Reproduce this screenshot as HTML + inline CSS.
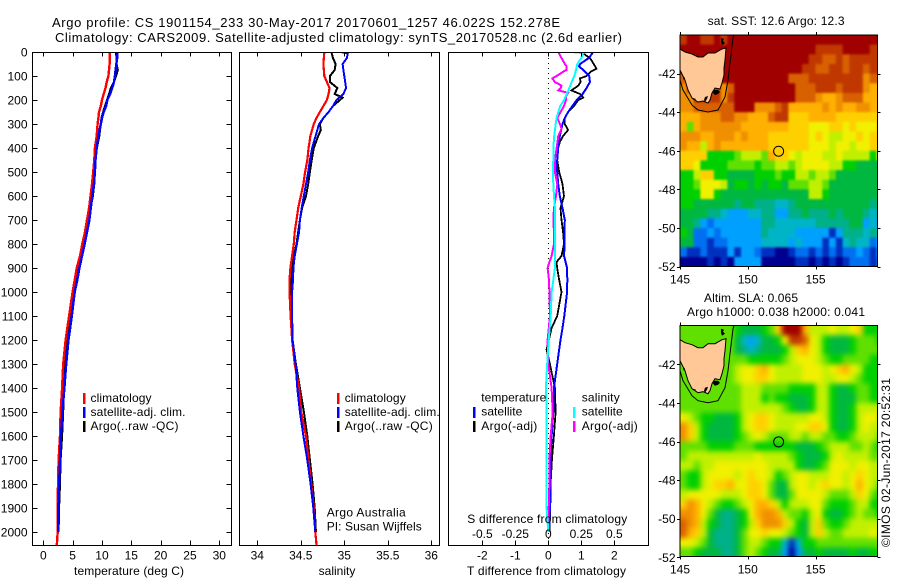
<!DOCTYPE html>
<html lang="en">
<head>
<meta charset="utf-8">
<title>Argo profile chart</title>
<style>
html,body{margin:0;padding:0;background:#fff;}
svg{display:block;}
text{font-family:"Liberation Sans",sans-serif;font-size:12px;fill:#000;}
.frame{fill:none;stroke:#000;stroke-width:1;shape-rendering:crispEdges;}
.tick{stroke:#000;stroke-width:1;shape-rendering:crispEdges;}
.key{stroke-width:2.5;shape-rendering:crispEdges;}
.prof{fill:none;stroke-linejoin:miter;shape-rendering:crispEdges;}
</style>
</head>
<body>
<svg id="chart" xmlns="http://www.w3.org/2000/svg" width="900" height="580" viewBox="0 0 900 580">
  <defs>
    <clipPath id="clip-sst"><rect x="680" y="35" width="197.5" height="231.5"/></clipPath>
    <clipPath id="clip-sla"><rect x="680" y="325.5" width="197.5" height="231"/></clipPath>
    <clipPath id="clip-t"><rect x="32.5" y="52.5" width="199" height="493"/></clipPath>
    <clipPath id="clip-s"><rect x="239.5" y="52.5" width="200" height="493"/></clipPath>
    <clipPath id="clip-d"><rect x="448.5" y="52.5" width="200" height="493"/></clipPath>
    <filter id="soft-sst" filterUnits="userSpaceOnUse" x="640" y="0" width="260" height="300" color-interpolation-filters="sRGB"><feGaussianBlur stdDeviation="1.1"/></filter>
    <filter id="soft-sla" filterUnits="userSpaceOnUse" x="640" y="290" width="260" height="290" color-interpolation-filters="sRGB"><feGaussianBlur stdDeviation="2.6"/></filter>
  </defs>

  <text x="52" y="27" style="font-size:13px" textLength="508">Argo profile: CS 1901154_233 30-May-2017 20170601_1257 46.022S 152.278E</text>
  <text x="55" y="42" style="font-size:13px" textLength="567">Climatology: CARS2009. Satellite-adjusted climatology: synTS_20170528.nc (2.6d earlier)</text>

  <g id="marks-t" clip-path="url(#clip-t)"></g>
  <g id="marks-s" clip-path="url(#clip-s)"></g>
  <line x1="548.5" y1="53" x2="548.5" y2="545" stroke="#000" stroke-width="1" stroke-dasharray="1 4"/>
  <g id="marks-d" clip-path="url(#clip-d)"></g>
  <g clip-path="url(#clip-sst)"><g id="cells-sst" filter="url(#soft-sst)"></g></g>
  <g clip-path="url(#clip-sla)"><g id="cells-sla" filter="url(#soft-sla)"></g></g>

  <g id="coast-sst" clip-path="url(#clip-sst)">
    <path d="M680 49L685 52L692 54L698 57L703 57L708 53L715 53L722 49L726 48L725 60L724 68L724 75L722 83L720 89L715 88L712 93L710 100L708 103L703 101L698 102L692 98L688 90L685 80L680 70Z" fill="#ffc896" stroke="#000" stroke-width="1"/>
    <path d="M680 80L683 90L692 105L698 110L708 112L718 110L725 97L728 80L730 63L733 38L734 35" fill="none" stroke="#000" stroke-width="1"/>
    <path d="M721 38l3 1l-1 2l2 2l-3 2l-1-3ZM714 90l4 0l2 2l-2 2l-3 1l-2-2ZM705 97l3-1l-1 3l-2 3l-1-2ZM693 98l3 1l-1 1l-2-1ZM683 76l2 2l-1 2l-1-2Z" fill="#000"/>
  </g>
  <g id="coast-sla" clip-path="url(#clip-sla)">
    <g transform="translate(0 290.7)">
      <path d="M680 49L685 52L692 54L698 57L703 57L708 53L715 53L722 49L726 48L725 60L724 68L724 75L722 83L720 89L715 88L712 93L710 100L708 103L703 101L698 102L692 98L688 90L685 80L680 70Z" fill="#ffc896" stroke="#000" stroke-width="1"/>
      <path d="M680 80L683 90L692 105L698 110L708 112L718 110L725 97L728 80L730 63L733 38L734 35" fill="none" stroke="#000" stroke-width="1"/>
      <path d="M721 38l3 1l-1 2l2 2l-3 2l-1-3ZM714 90l4 0l2 2l-2 2l-3 1l-2-2ZM705 97l3-1l-1 3l-2 3l-1-2ZM693 98l3 1l-1 1l-2-1ZM683 76l2 2l-1 2l-1-2Z" fill="#000"/>
    </g>
  </g>
  <circle id="float-sst" r="5" fill="none" stroke="#000" stroke-width="1"/>
  <circle id="float-sla" r="5" fill="none" stroke="#000" stroke-width="1"/>

  <rect class="frame" x="32.5" y="52.5" width="199" height="493"/>
  <rect class="frame" x="239.5" y="52.5" width="200" height="493"/>
  <rect class="frame" x="448.5" y="52.5" width="200" height="493"/>
  <rect class="frame" x="680" y="35" width="197.5" height="231.5"/>
  <rect class="frame" x="680" y="325.5" width="197.5" height="231"/>
  <g id="axes"></g>

  <text x="74" y="575" textLength="110">temperature (deg C)</text>
  <text x="337" y="575" text-anchor="middle">salinity</text>
  <text x="467" y="575" textLength="159">T difference from climatology</text>
  <text x="467.3" y="523" textLength="160">S difference from climatology</text>

  <g>
    <line class="key" x1="84" y1="393" x2="84" y2="404" stroke="#ff0000"/>
    <line class="key" x1="84" y1="407" x2="84" y2="418" stroke="#0000ff"/>
    <line class="key" x1="84" y1="421" x2="84" y2="432" stroke="#000"/>
    <text x="90.5" y="402" textLength="61">climatology</text>
    <text x="90.5" y="416" textLength="95">satellite-adj. clim.</text>
    <text x="90.5" y="430" textLength="88">Argo(..raw -QC)</text>
  </g>
  <g>
    <line class="key" x1="338" y1="393" x2="338" y2="404" stroke="#ff0000"/>
    <line class="key" x1="338" y1="407" x2="338" y2="418" stroke="#0000ff"/>
    <line class="key" x1="338" y1="421" x2="338" y2="432" stroke="#000"/>
    <text x="344.7" y="402" textLength="61">climatology</text>
    <text x="344.7" y="416" textLength="95">satellite-adj. clim.</text>
    <text x="344.7" y="430" textLength="88">Argo(..raw -QC)</text>
  </g>
  <text x="326.7" y="516.7" textLength="79">Argo Australia</text>
  <text x="326.7" y="530.7" textLength="95">PI: Susan Wijffels</text>

  <g>
    <text x="481.3" y="401.7" textLength="65">temperature</text>
    <line class="key" x1="474" y1="407" x2="474" y2="418" stroke="#0000ff"/>
    <text x="481.3" y="415.7" textLength="41">satellite</text>
    <line class="key" x1="474" y1="421" x2="474" y2="432" stroke="#000"/>
    <text x="481.3" y="430" textLength="56">Argo(-adj)</text>
    <text x="581.7" y="401.7" textLength="38">salinity</text>
    <line class="key" x1="574" y1="407" x2="574" y2="418" stroke="#00ffff"/>
    <text x="581.7" y="415.7" textLength="41">satellite</text>
    <line class="key" x1="574" y1="421" x2="574" y2="432" stroke="#ff00ff"/>
    <text x="581.7" y="430" textLength="56">Argo(-adj)</text>
  </g>

  <text x="707.6" y="25" textLength="137">sat. SST: 12.6 Argo: 12.3</text>
  <text x="704" y="302" textLength="94">Altim. SLA: 0.065</text>
  <text x="687" y="316" textLength="178">Argo h1000: 0.038 h2000: 0.041</text>
  <text transform="translate(890 547) rotate(-90)" textLength="169">©IMOS 02-Jun-2017 20:52:31</text>
</svg>

<script>
/* ---- profile data ---- */
const climDepth = [0,50,100,125,150,175,200,225,250,275,300,350,400,450,500,550,600,650,700,750,800,850,900,950,1000,1100,1200,1300,1400,1500,1600,1700,1800,1900,2000,2054];
const tClim = [11.36,11.3,11.1,10.8,10.6,10.3,10.0,9.8,9.5,9.4,9.25,9.1,8.8,8.7,8.5,8.3,8.05,7.8,7.45,7.1,6.65,6.25,5.7,5.35,5.0,4.4,3.8,3.4,3.2,2.95,2.85,2.6,2.5,2.45,2.45,2.3];
const sClim = [34.77,34.76,34.77,34.80,34.83,34.82,34.80,34.76,34.72,34.68,34.65,34.61,34.59,34.575,34.55,34.53,34.50,34.47,34.45,34.43,34.42,34.40,34.38,34.37,34.37,34.383,34.40,34.43,34.48,34.505,34.56,34.59,34.62,34.65,34.667,34.68];
const tSatDepth = [0,25,50,100,125,150,175,200,225,250,275,300,350,400,450,500,550,600,650,700,750,800,850,900,950,1000,1100,1200,1300,1400,1500,1600,1700,1800,1900,2000];
const tSat = [12.67,12.6,12.45,12.2,12.05,11.75,11.4,10.9,10.7,10.3,10.0,9.8,9.4,9.1,8.9,8.8,8.65,8.35,8.1,7.85,7.45,7.05,6.6,6.15,5.8,5.35,4.85,4.3,3.9,3.6,3.25,3.0,2.85,2.7,2.55,2.5];
const tArgoDepth = [0,50,75,100,125,150,175,200,225,250,275,300,350,400,450,500,550,600,650,700,750,800,850,900,950,1000,1100,1200,1300,1400,1500,1600,1700,1800,1900,2000];
const tArgo = [12.4,12.5,12.7,12.4,12.05,11.5,11.2,10.85,10.5,10.2,9.9,9.8,9.55,9.15,8.85,8.8,8.7,8.45,8.05,7.65,7.3,6.8,6.35,5.8,5.55,5.35,4.55,4.0,3.6,3.5,3.4,3.2,2.95,2.85,2.7,2.6];
const sSatDepth = [0,5,25,50,75,100,125,150,175,200,225,250,275,300,350,400,450,500,550,600,650,700,750,800,850,900,950,1000,1100,1200,1300,1400,1500,1600,1700,1800,1900,2000];
const sSat = [34.96,35.04,35.03,34.98,34.99,35.0,35.01,35.02,34.99,34.91,34.87,34.82,34.76,34.71,34.67,34.63,34.605,34.585,34.56,34.535,34.51,34.49,34.48,34.455,34.43,34.415,34.41,34.40,34.40,34.406,34.44,34.46,34.49,34.53,34.575,34.613,34.644,34.667];
const sArgoDepth = [0,25,50,75,100,125,150,175,190,200,225,250,275,300,325,350,400,450,500,550,600,650,700,750,800,850,900,950,1000,1100,1200,1300,1400,1500,1600,1700,1800,1900,2000];
const sArgo = [34.85,34.87,34.90,34.89,34.835,34.835,34.92,34.89,34.98,34.95,34.87,34.82,34.76,34.72,34.73,34.70,34.65,34.625,34.605,34.585,34.56,34.515,34.49,34.47,34.45,34.42,34.395,34.39,34.39,34.383,34.406,34.444,34.49,34.536,34.575,34.605,34.636,34.66,34.674];
const dtSatDepth = [0,25,50,60,75,100,125,150,175,200,225,250,275,300,350,400,450,500,550,600,650,700,750,800,850,900,950,1000,1100,1150,1200,1300,1400,1500,1600,1700,1800,1900,2000];
const dtSat = [1.36,1.23,.96,.93,1.06,1.24,1.26,1.16,1.04,.86,.73,.6,.5,.43,.35,.3,.27,.27,.3,.35,.43,.5,.49,.49,.48,.57,.575,.57,.485,.43,.37,.27,.17,.15,.1,.07,.06,.05,.02];
const dtArgoDepth = [0,10,25,50,70,80,100,110,125,140,160,175,190,200,225,250,275,300,325,350,375,400,450,500,550,600,650,700,750,800,850,875,900,950,1000,1100,1150,1240,1300,1400,1500,1600,1700,1800,1900,2000];
const dtArgo = [1.0,1.1,1.26,1.38,1.46,1.31,1.16,.96,.98,.91,.7,.96,1.06,.91,.78,.6,.5,.5,.6,.45,.35,.3,.27,.33,.43,.475,.37,.4,.45,.475,.4,.25,.27,.33,.4,.27,.1,-.05,.05,.2,.22,.17,.11,.07,.06,.03];
const dsSatDepth = [0,5,25,50,75,100,125,150,175,200,225,250,275,300,350,400,450,500,550,600,650,700,750,800,850,900,950,1000,1100,1200,1300,1400,1500,1600,1700,1800,1900,2000];
const dsSat = [.177,.265,.25,.22,.21,.197,.177,.16,.14,.12,.09,.076,.063,.056,.045,.038,.038,.035,.038,.043,.05,.05,.05,.05,.05,.05,.038,.025,.018,.003,-.008,-.018,-.013,-.013,-.013,-.013,-.013,0];
const dsArgoDepth = [0,25,50,60,75,80,100,110,125,140,150,160,170,185,200,225,250,275,300,320,350,400,450,500,550,600,650,700,750,800,850,875,900,950,1000,1100,1200,1300,1400,1500,1600,1700,1800,1900,2000];
const dsArgo = [.076,.1,.126,.139,.139,.119,.063,.03,.05,.1,.093,.076,.15,.134,.134,.119,.093,.068,.088,.1,.076,.063,.05,.05,.068,.058,.043,.038,.043,.043,.025,.008,-.005,.005,.008,.013,-.005,0,.025,.033,.018,.008,.008,.003,0];

/* ---- tick labels ---- */
const depthTicks = [0,100,200,300,400,500,600,700,800,900,1000,1100,1200,1300,1400,1500,1600,1700,1800,1900,2000];
const tempTicks = [0,5,10,15,20,25,30];
const salTicks = ['34','34.5','35','35.5','36'];
const dTempTicks = [-2,-1,0,1,2];
const dSalTicks = ['-0.5','-0.25','0','0.25','0.5'];
const lonTicks = [145,150,155];
const latTicks = [-42,-44,-46,-48,-50,-52];

/* ---- float position ---- */
const floatLon = 152.278;
const floatLat = -46.022;

/* ---- map levels: each character is one 0.5 degree cell, top row is 40S ---- */
const levelColors = {'0':'#a00000','1':'#c03800','2':'#d86000','3':'#f09000','4':'#ffb000','5':'#ffd000','6':'#f0f000','7':'#c0f000','8':'#60e000','9':'#00d000','a':'#00b840','b':'#00b088','c':'#00b4c8','d':'#00a0ff','e':'#0070f0','f':'#0030c0','g':'#000090'};
const sstRows = [
"100110100000000000000000000000",
"000000000000000000001111000011",
"000000000000000000011221211111",
"000000000000000000112211211211",
"200000000000000022211111111322",
"311111320000000002221112111344",
"331111310000000002223443222444",
"332222220003332144444343443344",
"444333223344421155544445555555",
"484333333444444455566655656665",
"333443334344455555565677665655",
"344743444444455555566676676655",
"555599998777845567666776777796",
"55699998888988778766667799aaaa",
"9975599aaaa999899778778aaaaaaa",
"9986667a99a9a99a888778aaaaaaaa",
"999669aaaaaaaaaaaaa779aaaaaaaa",
"99aaaaaabaabbbccbaaaaaaaaaaaba",
"aaaabbcdddccbbddbbabbbabaaabcb",
"aabdedddddddbbccccccbbbbbaadcd",
"9aeededdddddbccccdddddfdbbbcbc",
"aaeefeedddddccccdcdddfdfcbcced",
"effefffdfddeffggfeefefefeedefd",
"ggggfgfgddddgggggffgfgfgfeeefe"
];
const slaRows = [
"888888889aaa985000477767765999",
"88888888acdcaa96112679aaa98889",
"88888888abcbaaa9754679aaa98888",
"888888888899999876667899888899",
"888888887665467777666765467999",
"888888887665567777666776678999",
"88888888877788889999779aa98899",
"8888888887779899aaa9779aaa8899",
"88888888877777789aa9779aa97777",
"67899aaa976556777776679aa97667",
"3579aaaa976556777665569aa97677",
"3579aaaa9876788877877889987778",
"88889999888999999aaa9877788789",
"877777777776777789aaa976777788",
"778776666666677779aa9866676677",
"899766667656679876677766765677",
"89976554665568aa76676566764678",
"76666677765568aa86666788875689",
"534678998764457977766899987799",
"33468abba9643347889769aa987889",
"23479abba975333579a75899877777",
"2457abbba866566789a75788777767",
"6678abbba877899cfc998888888888",
"889aaabba8789aadgdaa9aaaa9aa99"
];

/* ---- axis functions ---- */
function yDepth(d){ return 52 + 0.24 * d; }
function xTemp(t){ return 43.3 + 5.867 * t; }
function xSal(s){ return 257.3 + 87 * (s - 34); }
function xDiffT(t){ return 548.3 + 33 * t; }
function xDiffS(s){ return 548.3 + 132 * s; }
function lonX(lon){ return 680 + 13.55 * (lon - 145); }
function latYSst(lat){ return 35 + 19.3 * (-40 - lat); }
function latYSla(lat){ return 325.7 + 19.3 * (-40 - lat); }

const NS = 'http://www.w3.org/2000/svg';
function el(tag, parent){
  const e = document.createElementNS(NS, tag);
  parent.appendChild(e);
  return e;
}

function drawProfile(parent, depths, values, xFn, color, width){
  const p = el('polyline', parent);
  p.setAttribute('class', 'prof');
  p.setAttribute('stroke', color);
  p.setAttribute('stroke-width', width);
  p.setAttribute('points', values.map(function(v, i){
    return xFn(v).toFixed(1) + ',' + yDepth(depths[i]).toFixed(1);
  }).join(' '));
  return p;
}

const gT = document.getElementById('marks-t');
const gS = document.getElementById('marks-s');
const gD = document.getElementById('marks-d');
let line;
line = drawProfile(gT, tArgoDepth, tArgo, xTemp, '#000', 2);


line = drawProfile(gT, climDepth, tClim, xTemp, '#ff0000', 2.4);


line = drawProfile(gT, tSatDepth, tSat, xTemp, '#0000ff', 2.4);


line = drawProfile(gS, sArgoDepth, sArgo, xSal, '#000', 2);


line = drawProfile(gS, climDepth, sClim, xSal, '#ff0000', 2.2);


line = drawProfile(gS, sSatDepth, sSat, xSal, '#0000ff', 2);


line = drawProfile(gD, dtArgoDepth, dtArgo, xDiffT, '#000', 1.8);


line = drawProfile(gD, dtSatDepth, dtSat, xDiffT, '#0000ff', 2);


line = drawProfile(gD, dsArgoDepth, dsArgo, xDiffS, '#ff00ff', 2);


line = drawProfile(gD, dsSatDepth, dsSat, xDiffS, '#00ffff', 2);



/* heatmap cells: edge cells run past the frame so the softening does not fade at the border */
const COLUMNS = 30;
function drawCells(parent, rows, latY, name){
  rows.forEach(function(row, r){
    for (let c = 0; c < COLUMNS; c++){
      const lon = 145 + c * 0.5;
      const lat = -40 - r * 0.5;
      const code = row[c] || row[row.length - 1];
      const rect = el('rect', parent);
      
      
      const x0 = lonX(lon) - (c === 0 ? 15 : 0);
      const x1 = lonX(lon + 0.5) + (c === COLUMNS - 1 ? 15 : 0.6);
      const y0 = latY(lat) - (r === 0 ? 15 : 0);
      const y1 = latY(lat - 0.5) + (r === rows.length - 1 ? 15 : 0.6);
      rect.setAttribute('x', x0.toFixed(1));
      rect.setAttribute('y', y0.toFixed(1));
      rect.setAttribute('width', (x1 - x0).toFixed(1));
      rect.setAttribute('height', (y1 - y0).toFixed(1));
      rect.setAttribute('fill', levelColors[code]);
    }
  });
}
drawCells(document.getElementById('cells-sst'), sstRows, latYSst, 'sst-cell');
drawCells(document.getElementById('cells-sla'), slaRows, latYSla, 'sla-cell');

const fs = document.getElementById('float-sst');
fs.setAttribute('cx', lonX(floatLon));
fs.setAttribute('cy', latYSst(floatLat));
const fl = document.getElementById('float-sla');
fl.setAttribute('cx', lonX(floatLon));
fl.setAttribute('cy', latYSla(floatLat));

/* ticks and labels */
const axes = document.getElementById('axes');
function tick(x1, y1, x2, y2){
  const t = el('line', axes);
  t.setAttribute('class', 'tick');
  t.setAttribute('x1', x1);
  t.setAttribute('y1', y1);
  t.setAttribute('x2', x2);
  t.setAttribute('y2', y2);
  return t;
}
function label(x, y, str, anchor){
  const t = el('text', axes);
  t.setAttribute('x', x);
  t.setAttribute('y', y);
  t.setAttribute('text-anchor', anchor);
  t.textContent = str;
  return t;
}
let mk;
depthTicks.forEach(function(d){
  const y = Math.round(yDepth(d)) + 0.5;
  mk = tick(32.5, y, 37.5, y);
  
  
  mk = tick(231.5, y, 226.5, y);
  
  
  mk = label(27.5, yDepth(d) + 4.5, String(d), 'end');
  
  
});
tempTicks.forEach(function(v){
  const x = Math.round(xTemp(v)) + 0.5;
  mk = tick(x, 52.5, x, 56.5);
  
  
  mk = tick(x, 545.5, x, 540.5);
  
  
  mk = label(xTemp(v), 559.5, String(v), 'middle');
  
  
});
salTicks.forEach(function(v){
  const x = Math.round(xSal(parseFloat(v))) + 0.5;
  mk = tick(x, 52.5, x, 56.5);
  
  
  mk = tick(x, 545.5, x, 540.5);
  
  
  mk = label(xSal(parseFloat(v)), 559.5, v, 'middle');
  
  
});
dTempTicks.forEach(function(v){
  const x = Math.round(xDiffT(v)) + 0.5;
  mk = tick(x, 52.5, x, 56.5);
  
  
  mk = tick(x, 545.5, x, 540.5);
  
  
  mk = label(xDiffT(v), 559.5, String(v), 'middle');
  
  
});
dSalTicks.forEach(function(v){
  mk = label(xDiffS(parseFloat(v)), 538, v, 'middle');
  
  
});
function mapAxes(latY, top, bottom, name){
  lonTicks.forEach(function(v){
    const x = Math.round(lonX(v)) + 0.5;
    mk = tick(x, top, x, top - 3);
    
    
    mk = tick(x, bottom, x, bottom + 3);
    
    
    mk = label(lonX(v), bottom + 17, String(v), 'middle');
    
    
  });
  latTicks.forEach(function(v){
    const y = Math.round(latY(v)) + 0.5;
    mk = tick(680, y, 677, y);
    
    
    mk = tick(877.5, y, 880.5, y);
    
    
    mk = label(675.5, latY(v) + 4.5, String(v), 'end');
    
    
  });
}
mapAxes(latYSst, 35, 266.5, 'sst');
mapAxes(latYSla, 325.5, 556.5, 'sla');
</script>
</body>
</html>
